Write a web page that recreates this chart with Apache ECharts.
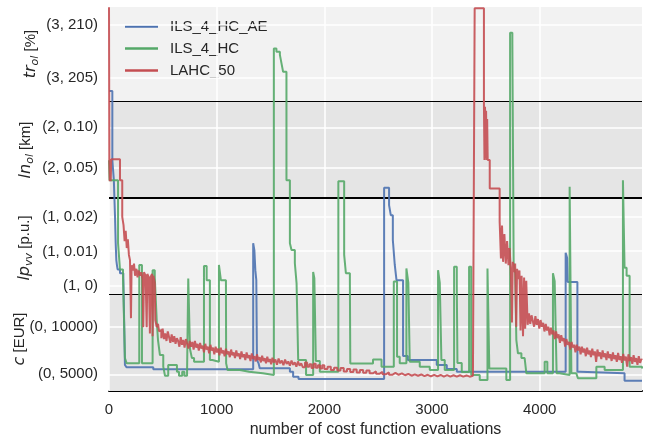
<!DOCTYPE html>
<html><head><meta charset="utf-8">
<script src="https://cdn.jsdelivr.net/npm/echarts@6/dist/echarts.min.js"></script>
<style>html,body{margin:0;padding:0;background:#fff}#c{width:654px;height:441px}</style>
</head><body><div id="c"></div>
<script>
// ---- data ----
const seriesNames = ['ILS_4_HC_AE', 'ILS_4_HC', 'LAHC_50'];
const seriesColors = ['#4c72b0', '#55a868', '#c44e52'];
// lexicographic objective levels: 0 = c [EUR], 1 = lp_vv [p.u.], 2 = ln_ol [km], 3 = tr_ol [%]
const bandLo = [3245, -0.00243, 0.01377, 202.81];
const bandSpan = [10142, 0.0279, 0.1176, 9.11];
const yTop = 3.978;
const xMax = 4950;
const tickLevels = [0, 0, 1, 1, 1, 2, 2, 3, 3];
const tickValues = [5000, 10000, 0, 0.01, 0.02, 0.05, 0.10, 205, 210];
const tickLabels = ['(0, 5000)', '(0, 10000)', '(1, 0)', '(1, 0.01)', '(1, 0.02)', '(2, 0.05)', '(2, 0.10)', '(3, 205)', '(3, 210)'];
const xTicks = [0, 1000, 2000, 3000, 4000];

// [evaluation, level, value]
const blueRun = [
[0,3,203.8],[31,2,0.060],[45,2,0.0354],[56,1,0.020],[62,1,0.0125],[68,1,0.0075],[74,1,0.0060],[80,1,0.0048],[102,1,0.0037],[133,1,0.0027],
[148,0,5975],[164,0,5733],[411,0,5520],
[1339,1,0.0124],[1350,1,0.0104],[1359,1,0.0046],[1368,1,0.0017],[1374,0,6500],[1389,0,6150],[1400,0,5625],[1680,0,5270],[1710,0,4746],[1760,0,4505],
[2555,2,0.0261],[2601,1,0.0234],[2617,1,0.0205],[2636,1,0.0133],[2654,1,0.0061],[2670,1,0.0017],[2731,0,6920],[2775,0,6500],[3044,0,5975],[3137,0,5555],[3230,0,5270],
[4241,1,0.0096],[4255,1,0.0081],[4260,1,0.0012],[4350,0,5270],[4375,0,5100],[4788,0,4325],[4950,0,4325]
];
const greenRun = [
[0,2,0.0598],[5,2,0.0354],[84,1,0.0124],[102,1,0.0048],[130,1,0.0027],[148,0,6710],[164,0,6150],
[281,1,0.0061],[306,0,6150],[405,1,0.0046],[425,1,0.0026],[443,0,10700],[455,0,8600],[473,0,7025],[504,0,5800],[520,0,4850],[550,0,5975],[631,0,5270],[650,0,4850],[680,0,5270],[700,0,4850],[725,0,5270],
[736,1,0.0022],[752,0,7650],[770,0,6700],[790,0,6320],[882,1,0.0058],[907,1,0.0017],[937,0,6500],[960,0,6320],
[1021,1,0.0061],[1039,1,0.0017],[1086,1,0.0008],[1088,0,6150],[1101,0,5450],[1216,0,5270],[1300,0,5100],[1429,0,4925],
[1531,3,207.8],[1555,3,207.5],[1587,3,207.2],[1602,3,206.4],[1617,3,205.6],[1648,2,0.0354],[1680,1,0.0124],[1695,1,0.0104],[1726,1,0.0066],[1742,1,0.0008],
[1757,0,6500],[1830,0,4925],[1896,1,0.0041],[1907,1,0.0023],[1921,0,6400],[1958,0,5270],
[2130,2,0.0340],[2184,1,0.0090],[2200,1,0.0037],[2237,1,0.0013],[2241,0,6130],[2452,0,6550],[2531,0,5800],
[2645,1,0.0013],[2675,0,6845],[2700,0,6150],[2762,1,0.0051],[2780,1,0.0009],[2793,0,6320],[2886,0,5800],[2979,0,5450],
[3056,1,0.0046],[3072,1,0.0009],[3087,0,6500],[3118,0,5450],[3205,1,0.0056],[3230,1,0.0000],[3236,0,6185],[3276,0,5240],
[3344,1,0.0056],[3364,0,4925],[3443,0,4400],[3515,1,0.0051],[3532,0,5615],[3690,0,4400],
[3725,3,209.3],[3746,3,208.3],[3758,1,0.0066],[3772,1,0.0037],[3783,0,8600],[3798,0,7205],[3830,0,6710],[3860,0,6500],[3876,0,5100],
[4046,0,6320],[4071,0,5100],[4123,1,0.0037],[4139,1,0.0014],[4157,0,5100],[4185,0,4925],[4278,2,0.0273],[4294,0,5100],[4340,0,4925],[4355,0,4580],[4526,0,5800],[4603,0,5450],
[4773,2,0.0354],[4788,1,0.0053],[4807,1,0.0030],[4835,0,5800],[4950,0,5615]
];
const redRun = [
[0,3,211.7],[3,2,0.060],[7,2,0.034],[12,2,0.060],[16,2,0.034],[21,2,0.061],[102,2,0.0354],
[123,1,0.0200],[135,1,0.0176],[145,1,0.0130],[155,1,0.0160],[165,1,0.0110],[175,1,0.0135],[185,1,0.0090],[195,1,0.0075],[204,0,10900],[210,1,0.0060],[222,1,0.0045],[232,1,0.0065],[242,1,0.0030],[255,1,0.0050],[265,1,0.0025],[275,1,0.0045],[290,1,0.0030],[300,1,0.0040],[312,1,0.0020],[318,0,9950],[325,1,0.0040],[340,1,0.0030],[350,0,9950],[356,1,0.0035],[370,1,0.0025],[380,0,9300],[388,1,0.0028],[400,1,0.0035],[405,0,9000],[412,1,0.0030],[425,1,0.0010],[430,0,10700],[443,0,9950],[455,0,10300],[465,0,9500],
[473,0,9650],[486,0,8800],[498,0,9800],[510,0,8700],[522,0,9300],[534,0,8500],[546,0,9500],[558,0,8900],[570,0,8300],[582,0,9200],[594,0,8400],[606,0,9000],[618,0,8200],[630,0,8800],[642,0,8500],[654,0,7900],[666,0,8900],[678,0,8100],[690,0,8600],[702,0,7800],[714,0,8700],[726,0,8200],[738,0,7700],[750,0,8500],[762,0,7900],[774,0,8400],[786,0,7600],[798,0,8500],[810,0,7800],[822,0,8200],[834,0,7500],[846,0,8300],[858,0,7700],[870,0,8000],[882,0,7300],[894,0,8200],[906,0,7600],[918,0,7900],[930,0,7200],[942,0,8100],[954,0,7500],[966,0,7800],[978,0,7100],[990,0,7900],[1002,0,7300],[1014,0,7700],[1026,0,7000],[1038,0,7800],[1050,0,7200],[1062,0,7500],[1074,0,6900],[1086,0,7700],[1098,0,7100],[1110,0,7400],[1122,0,6800],[1134,0,7600],[1146,0,7000],[1158,0,7300],[1170,0,6700],[1182,0,7500],[1194,0,6900],[1206,0,7200],[1218,0,6600],[1230,0,7400],[1242,0,6800],[1254,0,7100],[1266,0,6500],[1278,0,7300],[1290,0,6700],[1302,0,7000],[1314,0,6400],[1326,0,7200],[1338,0,6600],[1350,0,6900],[1362,0,6350],[1374,0,7100],[1386,0,6500],[1398,0,6800],[1410,0,6250],[1422,0,6950],[1434,0,6400],[1446,0,6700],[1458,0,6150],[1470,0,6850],[1482,0,6300],[1494,0,6600],[1506,0,6050],[1518,0,6750],[1530,0,6250],[1545,0,6550],[1560,0,6000],[1575,0,6650],[1590,0,6150],[1605,0,6450],[1620,0,5950],[1635,0,6550],[1650,0,6100],[1665,0,6350],[1680,0,5900],[1695,0,6450],[1710,0,6000],[1725,0,6250],[1740,0,5800],[1755,0,6350],[1770,0,5900],[1785,0,6150],[1800,0,5750],[1820,0,6250],[1840,0,5800],[1860,0,6050],[1880,0,5650],[1900,0,6100],[1920,0,5700],[1940,0,5950],[1960,0,5600],[1980,0,5950],[2000,0,5550],
[2030,0,5800],[2060,0,5450],[2090,0,5700],[2120,0,5400],[2150,0,5650],[2180,0,5300],[2210,0,5550],[2240,0,5250],[2270,0,5500],[2300,0,5200],[2330,0,5450],[2360,0,5150],[2390,0,5400],[2420,0,5100],[2450,0,5300],[2480,0,5050],[2510,0,5250],[2540,0,5000],[2570,0,5200],[2600,0,4950],[2630,0,5150],[2660,0,4950],[2690,0,5100],[2720,0,4900],[2750,0,5050],[2780,0,4850],[2810,0,5000],[2840,0,4850],[2870,0,4980],[2900,0,4800],[2930,0,4950],[2960,0,4780],[2990,0,4950],[3020,0,4780],[3050,0,4930],[3080,0,4760],[3110,0,4920],[3140,0,4760],[3170,0,4900],[3200,0,4750],[3230,0,4900],[3260,0,4760],[3290,0,4880],[3320,0,4750],[3350,0,4850],[3380,0,4780],
[3396,3,211.6],[3482,2,0.1276],[3487,2,0.060],[3492,2,0.125],[3497,2,0.062],[3502,2,0.120],[3507,2,0.060],[3512,2,0.110],[3517,2,0.060],[3536,2,0.0253],
[3628,1,0.0187],[3640,1,0.0080],[3650,1,0.0175],[3660,1,0.0070],[3672,1,0.0150],[3685,1,0.0065],[3697,1,0.0130],[3710,1,0.0060],[3720,1,0.0110],[3732,1,0.0045],[3742,0,10450],[3750,1,0.0070],[3762,1,0.0040],[3772,1,0.0065],[3782,0,10000],[3790,1,0.0050],[3800,1,0.0020],[3812,1,0.0045],[3822,0,9600],[3832,1,0.0030],[3845,0,9000],[3855,1,0.0025],[3865,0,9800],[3875,1,0.0015],[3888,0,10200],
[3900,0,11400],[3912,0,10300],[3924,0,11200],[3936,0,10600],[3948,0,10000],[3960,0,11100],[3972,0,10200],[3984,0,10800],[3996,0,9800],[4008,0,10700],[4020,0,10000],[4032,0,10400],[4044,0,9500],[4056,0,10300],[4068,0,9600],[4080,0,10000],[4092,0,9100],[4104,0,9900],[4116,0,9200],[4128,0,9600],[4140,0,8700],[4152,0,9500],[4164,0,8800],[4176,0,9200],[4188,0,8300],[4200,0,9100],[4212,0,8500],[4224,0,8800],[4236,0,7900],[4248,0,8700],[4260,0,8100],[4272,0,8400],[4284,0,7600],[4296,0,8400],[4308,0,7800],[4320,0,8100],[4332,0,7300],[4344,0,8100],[4356,0,7500],[4368,0,7900],[4380,0,7100],[4392,0,7900],[4404,0,7300],[4416,0,7700],[4428,0,6900],[4440,0,7800],[4452,0,7100],[4464,0,7500],[4476,0,6800],[4488,0,7700],[4500,0,7000],[4512,0,7400],[4524,0,6300],[4536,0,7600],[4548,0,6900],[4560,0,7300],[4572,0,6600],[4584,0,7500],[4596,0,6800],[4608,0,7200],[4620,0,6500],[4632,0,7400],[4644,0,6700],[4656,0,7100],[4668,0,6400],[4680,0,7300],[4692,0,6600],[4704,0,7000],[4716,0,6300],[4728,0,7250],[4740,0,6500],[4752,0,6900],[4764,0,6200],[4776,0,7150],[4788,0,6450],[4800,0,6850],[4812,0,5800],[4824,0,7100],[4836,0,6400],[4848,0,6800],[4860,0,6100],[4872,0,7000],[4884,0,6300],[4896,0,6700],[4908,0,6000],[4920,0,6900],[4932,0,6200],[4944,0,6600],[4950,0,6500]
];

// ---- composite y scale ----
function toY(level, v) { return level + (v - bandLo[level]) / bandSpan[level]; }
const tickPos = tickLevels.map((l, i) => toY(l, tickValues[i]));
const runs = [blueRun, greenRun, redRun];

const font = "'Liberation Sans', Arial, sans-serif";
const mathFont = "'DejaVu Sans', sans-serif";
const txt = '#262626';

const chart = echarts.init(document.getElementById('c'), null, {renderer: 'canvas'});

const lineSeries = runs.map((r, i) => ({
  name: seriesNames[i], type: 'line', step: 'end', showSymbol: false, symbol: 'none',
  z: 5 + i, silent: true,
  lineStyle: {color: seriesColors[i], width: 2, opacity: 0.9},
  itemStyle: {color: seriesColors[i]},
  data: r.map(p => [p[0], toY(p[1], p[2])])
}));

function richName(main, sub, rest) {
  return '{i|' + main + '}' + (sub ? '{s|' + sub + '}' : '') + '{n| ' + rest + '}';
}
const rich = {
  i: {fontFamily: mathFont, fontStyle: 'italic', fontSize: 16, color: txt, lineHeight: 20},
  s: {fontFamily: mathFont, fontStyle: 'italic', fontSize: 11, color: txt, lineHeight: 12, verticalAlign: 'bottom'},
  n: {fontFamily: font, fontSize: 15, color: txt, lineHeight: 20}
};
const yNames = [
  {t: richName('tr', 'ol', '[%]'), x: 31, y: 54},
  {t: richName('ln', 'ol', '[km]'), x: 26, y: 150},
  {t: richName('lp', 'vv', '[p.u.]'), x: 25, y: 248},
  {t: richName('c', '', '[EUR]'), x: 20, y: 339}
];

chart.setOption({
  animation: false,
  textStyle: {fontFamily: font},
  grid: {left: 109, right: 12, top: 7, bottom: 50, show: true, backgroundColor: '#f2f2f2', borderWidth: 0, outerBoundsMode: 'none', containLabel: false},
  legend: {
    data: seriesNames, orient: 'vertical', left: 120, top: 14, icon: 'rect',
    itemWidth: 33, itemHeight: 2.5, itemGap: 7,
    textStyle: {fontSize: 15, color: txt, fontFamily: font, padding: [0, 0, 0, 7]}
  },
  xAxis: {
    type: 'value', min: 0, max: xMax, interval: 1000,
    name: 'number of cost function evaluations', nameLocation: 'middle', nameGap: 31,
    nameTextStyle: {fontSize: 16, color: txt, fontFamily: font},
    axisLine: {show: true, onZero: false, lineStyle: {color: '#000', width: 2}},
    axisTick: {show: false}, splitLine: {show: false},
    axisLabel: {
      fontSize: 15, color: txt, margin: 11, fontFamily: font, showMaxLabel: false,
      formatter: function (v) { return xTicks.indexOf(v) >= 0 ? String(v) : ''; }
    }
  },
  yAxis: {
    type: 'value', min: 0, max: yTop,
    axisLine: {show: false}, axisTick: {show: false}, splitLine: {show: false},
    axisLabel: {
      customValues: tickPos, fontSize: 15, color: txt, margin: 11, fontFamily: font,
      formatter: function (v) {
        for (let i = 0; i < tickPos.length; i++) if (Math.abs(tickPos[i] - v) < 1e-6) return tickLabels[i];
        return '';
      }
    }
  },
  graphic: yNames.map(n => ({
    type: 'text', x: n.x, y: n.y, rotation: Math.PI / 2, silent: true,
    style: {text: n.t, rich: rich, align: 'center', verticalAlign: 'middle', fill: txt}
  })),
  series: [
    {
      type: 'line', data: [], z: 1, silent: true,
      markArea: {
        silent: true, itemStyle: {color: '#e5e5e5'},
        data: [[{xAxis: 0, yAxis: 0}, {xAxis: xMax, yAxis: 1}], [{xAxis: 0, yAxis: 2}, {xAxis: xMax, yAxis: 3}]]
      }
    },
    {
      type: 'line', data: [], z: 2, silent: true,
      markLine: {
        silent: true, symbol: ['none', 'none'], label: {show: false},
        lineStyle: {color: '#ffffff', width: 1.5, type: 'solid'},
        data: tickPos.map(p => ({yAxis: p})).concat(xTicks.map(x => ({xAxis: x})))
      }
    },
    ...lineSeries,
    {
      type: 'line', data: [], z: 10, silent: true,
      markLine: {
        silent: true, symbol: ['none', 'none'], label: {show: false},
        data: [
          {yAxis: 1, lineStyle: {color: '#000', width: 1.2, type: 'solid'}},
          {yAxis: 2, lineStyle: {color: '#000', width: 1.8, type: 'solid'}},
          {yAxis: 3, lineStyle: {color: '#000', width: 1.2, type: 'solid'}}
        ]
      }
    }
  ]
});
</script></body></html>
